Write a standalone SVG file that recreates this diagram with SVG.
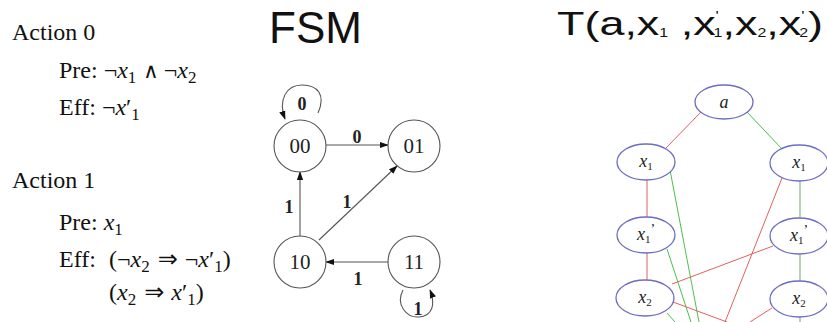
<svg xmlns="http://www.w3.org/2000/svg" width="827" height="322" viewBox="0 0 827 322">
<style>
.t{font-family:"Liberation Serif","Times New Roman",serif;font-size:24px;fill:#111}
.i{font-style:italic}
.sub{font-size:17px}
.op{font-family:"DejaVu Sans","Liberation Serif",sans-serif;font-weight:normal}
.title{font-family:"Liberation Sans",Arial,sans-serif;fill:#111}
.st{fill:#fff;stroke:#555;stroke-width:1.1}
.sl{font-family:"Liberation Serif",serif;font-size:21px;fill:#222;text-anchor:middle}
.el{font-family:"Liberation Serif",serif;font-size:18px;font-weight:bold;fill:#222;text-anchor:middle}
.fe{fill:none;stroke:#555;stroke-width:1.1}
.en{fill:#fff;stroke:#6c6cc4;stroke-width:1.3}
.nl{font-family:"Liberation Serif",serif;font-size:18px;font-style:italic;fill:#222;text-anchor:middle}
.ns{font-size:11px;font-style:normal}
.r{stroke:#e06060;stroke-width:1;fill:none}
.g{stroke:#4cbf4c;stroke-width:1;fill:none}
.gg{stroke:#8cb88c;stroke-width:1.2;fill:none}
</style>
<defs>
<marker id="ah" viewBox="0 0 10 10" refX="9" refY="5" markerWidth="9" markerHeight="9" markerUnits="userSpaceOnUse" orient="auto">
<path d="M0,1.5 L10,5 L0,8.5 z" fill="#111"/>
</marker>
</defs>

<g id="actions">
<text class="t" x="12" y="40">Action 0</text>
<text class="t" x="59" y="78">Pre: ¬<tspan class="i">x</tspan><tspan class="sub" dy="5">1</tspan><tspan class="op" font-size="21" dy="-5" dx="7">∧</tspan><tspan dx="5">¬</tspan><tspan class="i">x</tspan><tspan class="sub" dy="5">2</tspan></text>
<text class="t" x="59" y="115">Eff: ¬<tspan class="i">x</tspan>′<tspan class="sub" dy="5">1</tspan></text>
<text class="t" x="12" y="188">Action 1</text>
<text class="t" x="59" y="230">Pre: <tspan class="i">x</tspan><tspan class="sub" dy="5">1</tspan></text>
<text class="t" x="59" y="267">Eff:<tspan x="109">(¬</tspan><tspan class="i">x</tspan><tspan class="sub" dy="5">2</tspan><tspan class="op" font-size="24" dy="-5" dx="8">⇒</tspan><tspan dx="7">¬</tspan><tspan class="i">x</tspan>′<tspan class="sub" dy="5">1</tspan><tspan dy="-5">)</tspan></text>
<text class="t" x="109" y="300">(<tspan class="i">x</tspan><tspan class="sub" dy="5">2</tspan><tspan class="op" font-size="24" dy="-5" dx="8">⇒</tspan><tspan class="i" dx="7">x</tspan>′<tspan class="sub" dy="5">1</tspan><tspan dy="-5">)</tspan></text>
</g>

<g id="fsm-title"><text class="title" x="269" y="43" font-size="44">FSM</text></g>
<g id="t-title"><text class="title" x="557" y="35" font-size="34" textLength="266" lengthAdjust="spacingAndGlyphs">T(a,x<tspan font-size="12" dy="2">1</tspan><tspan dy="-2"> ,x</tspan><tspan font-size="13" dy="-15">'</tspan><tspan font-size="12" dy="17" dx="-4">1</tspan><tspan dy="-2">,x</tspan><tspan font-size="12" dy="2">2</tspan><tspan dy="-2">,x</tspan><tspan font-size="13" dy="-15">'</tspan><tspan font-size="12" dy="17" dx="-4">2</tspan><tspan dy="-2">)</tspan></text></g>

<g id="fsm-edges">
<path class="fe" d="M318,113 C326,95 318,85 302,85 C286,85 278,100 285,119" marker-end="url(#ah)"/>
<text class="el" x="302" y="110">0</text>
<line class="fe" x1="326" y1="145" x2="388" y2="145" marker-end="url(#ah)"/>
<text class="el" x="357" y="143">0</text>
<line class="fe" x1="300" y1="236" x2="300" y2="172" marker-end="url(#ah)"/>
<text class="el" x="289" y="213">1</text>
<line class="fe" x1="319" y1="240" x2="397" y2="166" marker-end="url(#ah)"/>
<text class="el" x="347" y="208">1</text>
<line class="fe" x1="388" y1="262" x2="326" y2="262" marker-end="url(#ah)"/>
<text class="el" x="358" y="285">1</text>
<path class="fe" d="M403,290 C395,305 407,318 419,317 C432,316 436,305 430,290" marker-end="url(#ah)"/>
<text class="el" x="418" y="315">1</text>
</g>

<g id="s00"><circle class="st" cx="300" cy="146" r="26"/><text class="sl" x="300" y="153">00</text></g>
<g id="s01"><circle class="st" cx="414" cy="146" r="26"/><text class="sl" x="414" y="153">01</text></g>
<g id="s10"><circle class="st" cx="300" cy="262" r="26"/><text class="sl" x="300" y="269">10</text></g>
<g id="s11"><circle class="st" cx="414" cy="262" r="26"/><text class="sl" x="414" y="269">11</text></g>

<g id="bdd-edges">
<line class="r" x1="701" y1="112" x2="666" y2="148"/>
<line class="g" x1="747" y1="112" x2="782" y2="149"/>
<line class="r" x1="647" y1="180" x2="647" y2="217"/>
<line class="r" x1="647" y1="253" x2="647" y2="281"/>
<line class="g" x1="670" y1="170" x2="699" y2="322"/>
<line class="g" x1="667" y1="249" x2="691" y2="322"/>
<line class="g" x1="667" y1="313" x2="675" y2="322"/>
<line class="r" x1="672" y1="284" x2="773" y2="246"/>
<line class="r" x1="782" y1="178" x2="725" y2="322"/>
<line class="r" x1="673" y1="302" x2="727" y2="322"/>
<line class="r" x1="772" y1="308" x2="750" y2="322"/>
<line class="gg" x1="800" y1="181" x2="800" y2="218"/>
<line class="gg" x1="800" y1="254" x2="800" y2="281"/>
<line class="gg" x1="800" y1="316" x2="800" y2="322"/>
</g>

<g id="n-a"><ellipse class="en" cx="724" cy="102" rx="29" ry="17"/><text class="nl" x="724" y="108">a</text></g>
<g id="n-x1l"><ellipse class="en" cx="646" cy="162" rx="29" ry="18"/><text class="nl" x="646" y="167">x<tspan class="ns" dy="3">1</tspan></text></g>
<g id="n-x1r"><ellipse class="en" cx="799" cy="163" rx="29" ry="18"/><text class="nl" x="799" y="168">x<tspan class="ns" dy="3">1</tspan></text></g>
<g id="n-x1pl"><ellipse class="en" cx="646" cy="235" rx="29" ry="18"/><text class="nl" x="646" y="240">x<tspan class="ns" dy="3">1</tspan><tspan font-style="normal" font-size="14" dy="-9">’</tspan></text></g>
<g id="n-x1pr"><ellipse class="en" cx="799" cy="236" rx="29" ry="18"/><text class="nl" x="799" y="241">x<tspan class="ns" dy="3">1</tspan><tspan font-style="normal" font-size="14" dy="-9">’</tspan></text></g>
<g id="n-x2l"><ellipse class="en" cx="645" cy="298" rx="29" ry="18"/><text class="nl" x="645" y="303">x<tspan class="ns" dy="3">2</tspan></text></g>
<g id="n-x2r"><ellipse class="en" cx="799" cy="299" rx="29" ry="18"/><text class="nl" x="799" y="304">x<tspan class="ns" dy="3">2</tspan></text></g>
</svg>
